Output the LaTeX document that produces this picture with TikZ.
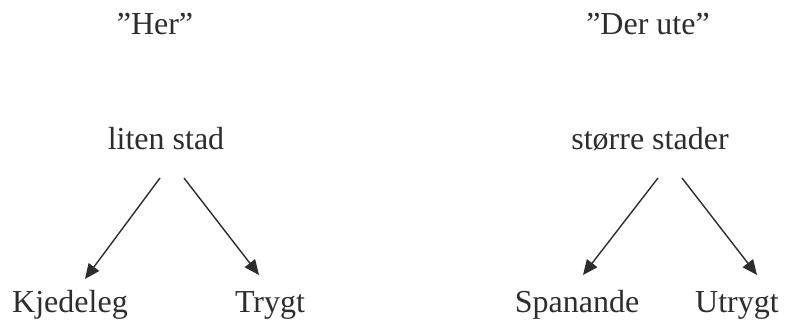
\documentclass[tikz,border=0pt]{standalone}
\usepackage{fontspec}
\setmainfont{Liberation Serif}
\usetikzlibrary{arrows.meta}
\definecolor{ink}{RGB}{45,45,45}
\begin{document}
\begin{tikzpicture}[x=1pt,y=1pt,
  lbl/.style={anchor=base,inner sep=0pt,text=ink,font=\fontsize{32}{38}\selectfont},
  conn/.style={draw=ink,line width=1.4pt,-{Triangle[length=15pt,width=13pt]}}]
\useasboundingbox (0,0) rectangle (799,321);
\node[lbl] (her) at (155,286) {”Her”};
\node[lbl] (ute) at (648,286) {”Der ute”};
\node[lbl] (liten) at (166,171) {liten stad};
\node[lbl] (storre) at (650,171) {større stader};
\node[lbl] (kj) at (70,9) {Kjedeleg};
\node[lbl] (tr) at (270,9) {Trygt};
\node[lbl] (sp) at (577,9) {Spanande};
\node[lbl] (ut) at (737,9) {Utrygt};
\coordinate (a1s) at (160,143);
\coordinate (a1e) at (85,42);
\coordinate (a2s) at (184,143);
\coordinate (a2e) at (259,46);
\coordinate (a3s) at (658,143);
\coordinate (a3e) at (583,46);
\coordinate (a4s) at (682,143);
\coordinate (a4e) at (757,46);
\draw[conn] (a1s) -- (a1e);
\draw[conn] (a2s) -- (a2e);
\draw[conn] (a3s) -- (a3e);
\draw[conn] (a4s) -- (a4e);
\end{tikzpicture}
\end{document}
